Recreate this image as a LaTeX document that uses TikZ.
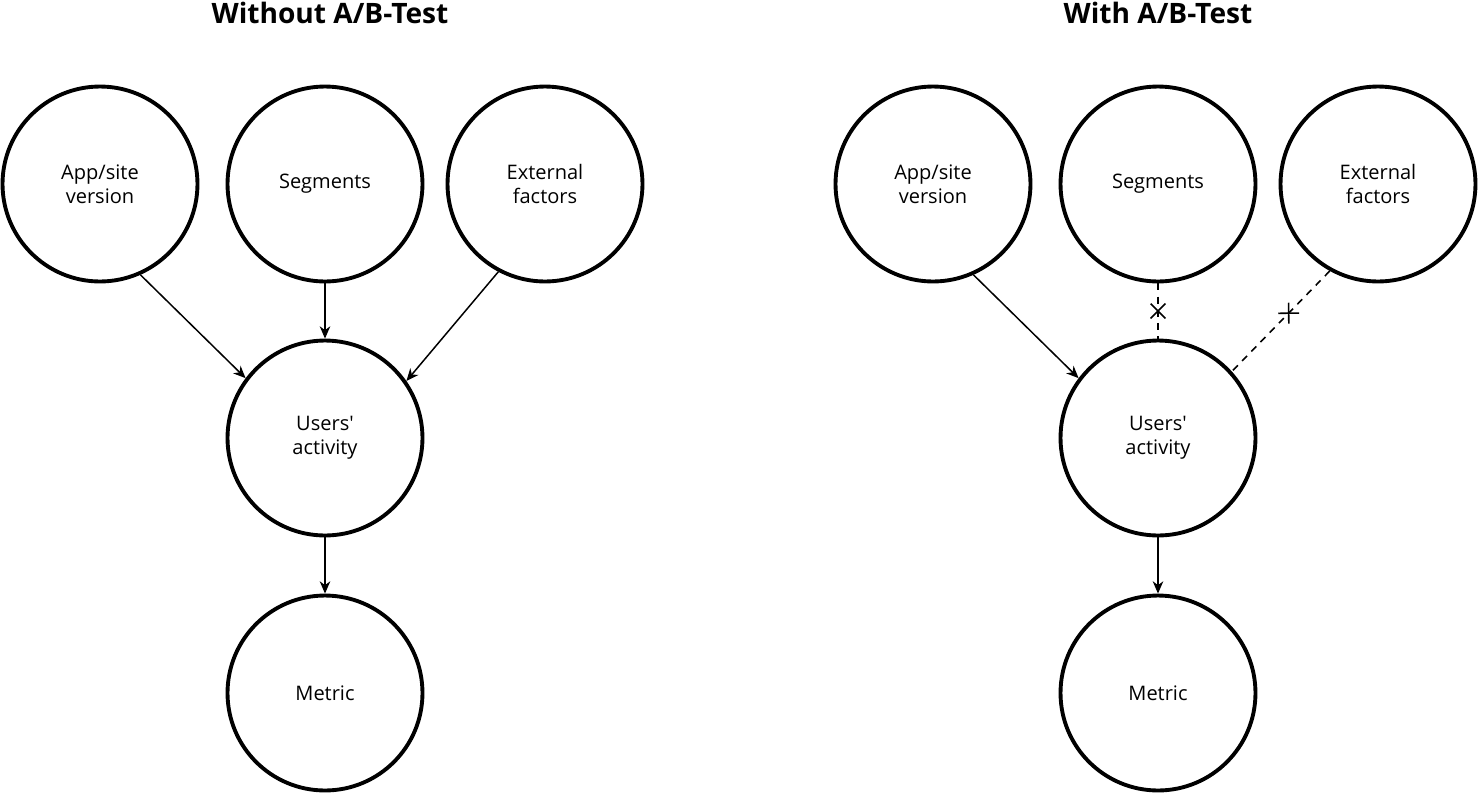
\documentclass[tikz,border=0pt]{standalone}
\usepackage{fontspec}
\setmainfont{Open Sans}
\usetikzlibrary{arrows.meta,shapes.misc}

\begin{document}
\begin{tikzpicture}[x=0.02cm,y=-0.02cm,
    factor/.style={circle,draw,line width=2.2pt,minimum size=3.9cm,inner sep=0pt,
      align=center,font=\fontsize{11.4}{13.7}\selectfont},
    heading/.style={font=\fontsize{16}{19}\selectfont\bfseries},
    link/.style={line width=0.85pt,-{Stealth[length=7pt,width=6pt,inset=2.2pt]}},
    cut/.style={line width=0.9pt,dash pattern=on 4pt off 3.5pt},
    crossmark/.style={cross out,draw,solid,sloped,minimum size=7.5pt,inner sep=0pt,line width=0.9pt}]
  \useasboundingbox (0,0) rectangle (1478,792);

  % without A/B-test
  \node[heading] (titleL) at (330,13) {Without A/B-Test};
  \node[factor] (appL) at (100,184) {App/site\\version};
  \node[factor] (segL) at (325,184) {Segments};
  \node[factor] (extL) at (545,184) {External\\factors};
  \node[factor] (usrL) at (325,438) {Users\textquotesingle\\activity};
  \node[factor] (metL) at (325,693) {Metric};
  \draw[link] (appL.-66) -- (usrL.143);
  \draw[link] (segL) -- (usrL);
  \draw[link] (extL.242) -- (usrL.35);
  \draw[link] (usrL) -- (metL);

  % with A/B-test
  \node[heading] (titleR) at (1158,13) {With A/B-Test};
  \node[factor] (appR) at (933,184) {App/site\\version};
  \node[factor] (segR) at (1158,184) {Segments};
  \node[factor] (extR) at (1378,184) {External\\factors};
  \node[factor] (usrR) at (1158,438) {Users\textquotesingle\\activity};
  \node[factor] (metR) at (1158,693) {Metric};
  \draw[link] (appR.-66) -- (usrR.143);
  \draw[cut] (segR) -- node[crossmark,midway] {} (usrR);
  \draw[cut] (extR.241) -- node[crossmark,pos=0.42] {} (usrR.42);
  \draw[link] (usrR) -- (metR);
\end{tikzpicture}
\end{document}
